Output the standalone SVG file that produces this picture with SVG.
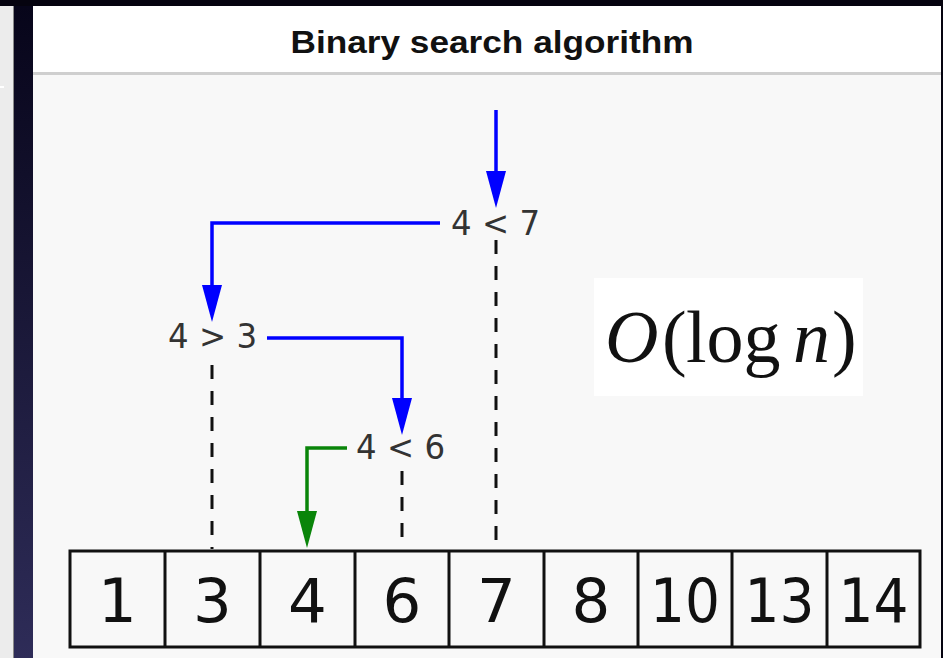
<svg xmlns="http://www.w3.org/2000/svg" width="943" height="658" viewBox="0 0 943 658">
  <defs>
    <linearGradient id="navy" x1="0" y1="0" x2="0" y2="1">
      <stop offset="0" stop-color="#07051a"/>
      <stop offset="1" stop-color="#2e2c58"/>
    </linearGradient>
    <marker id="headBlue" viewBox="0 0 37 20" refX="17" refY="10" markerWidth="37" markerHeight="20" markerUnits="userSpaceOnUse" orient="auto">
      <path d="M0,0 L37,10 L0,20 Z" fill="#0000ff"/>
    </marker>
    <marker id="headGreen" viewBox="0 0 37 20" refX="17" refY="10" markerWidth="37" markerHeight="20" markerUnits="userSpaceOnUse" orient="auto">
      <path d="M0,0 L37,10 L0,20 Z" fill="#0a850a"/>
    </marker>
  </defs>
  <style>
    .blue { fill: none; stroke: #0000ff; stroke-width: 3.5; marker-end: url(#headBlue); }
    .green { fill: none; stroke: #0a850a; stroke-width: 3.5; marker-end: url(#headGreen); }
    .dash { fill: none; stroke: #111; stroke-width: 3; stroke-dasharray: 14 12; }
    .lbl { font-family: "DejaVu Sans", sans-serif; font-size: 33px; fill: #333; }
    .cell { fill: none; stroke: #111; stroke-width: 3; }
    .num { font-family: "DejaVu Sans", sans-serif; font-size: 61px; fill: #111; text-anchor: middle; }
    .math { font-family: "Liberation Serif", serif; font-size: 74px; fill: #111; }
  </style>

  <!-- background / window chrome -->
  <rect x="0" y="0" width="943" height="658" fill="#05030f"/>
  <rect x="0" y="0" width="13" height="658" fill="#ececec"/>
  <rect x="0" y="86" width="4" height="2" fill="#ffffff"/>
  <rect x="13" y="0" width="1" height="658" fill="#8a8a8a"/>
  <rect x="14" y="6" width="19" height="652" fill="url(#navy)"/>
  <rect x="0" y="0" width="943" height="6" fill="#05030f"/>
  <rect x="33" y="6" width="908" height="66" fill="#ffffff"/>
  <rect x="33" y="72" width="908" height="3" fill="#cfcfcf"/>
  <rect x="33" y="75" width="908" height="583" fill="#f8f8f8"/>

  <g id="title">
    <text x="492" y="53" text-anchor="middle" font-family="Liberation Sans, Arial, sans-serif" font-weight="bold" font-size="32" fill="#111" textLength="403" lengthAdjust="spacingAndGlyphs">Binary search algorithm</text>
  </g>

  <g id="complexity">
    <rect x="594" y="278" width="269" height="118" fill="#ffffff"/>
    <text class="math" y="362"><tspan x="605" font-style="italic">O</tspan><tspan x="662">(</tspan><tspan x="686">log</tspan><tspan x="793" font-style="italic">n</tspan><tspan x="832">)</tspan></text>
  </g>

  <g id="connectors">
    <path class="dash" d="M212,365 V549"/>
    <path class="dash" d="M402,471 V549"/>
    <path class="dash" d="M496,240 V549"/>
    <path class="blue" d="M496,110 V188"/>
    <path class="blue" d="M440,223 H212 V302"/>
    <path class="blue" d="M267,338 H402 V415"/>
    <path class="green" d="M347,448 H307 V528"/>
  </g>

  <g id="cmp-4-7"><text class="lbl" x="451" y="235" textLength="89" lengthAdjust="spacingAndGlyphs">4 &lt; 7</text></g>
  <g id="cmp-4-3"><text class="lbl" x="168" y="348" textLength="89" lengthAdjust="spacingAndGlyphs">4 &gt; 3</text></g>
  <g id="cmp-4-6"><text class="lbl" x="356" y="459" textLength="89" lengthAdjust="spacingAndGlyphs">4 &lt; 6</text></g>

  <g id="array">
    <rect class="cell" x="70" y="551" width="850" height="96"/>
    <path class="cell" d="M165,551 V647 M260,551 V647 M355,551 V647 M449,551 V647 M544,551 V647 M638,551 V647 M732,551 V647 M827,551 V647"/>
    <g id="c1"><text class="num" x="117.5" y="622">1</text></g>
    <g id="c3"><text class="num" x="212.5" y="622">3</text></g>
    <g id="c4"><text class="num" x="307.5" y="622">4</text></g>
    <g id="c6"><text class="num" x="402" y="622">6</text></g>
    <g id="c7"><text class="num" x="496.5" y="622">7</text></g>
    <g id="c8"><text class="num" x="591" y="622">8</text></g>
    <g id="c10"><text class="num" x="685" y="622" textLength="70" lengthAdjust="spacingAndGlyphs">10</text></g>
    <g id="c13"><text class="num" x="779.5" y="622" textLength="70" lengthAdjust="spacingAndGlyphs">13</text></g>
    <g id="c14"><text class="num" x="873.5" y="622" textLength="70" lengthAdjust="spacingAndGlyphs">14</text></g>
  </g>
</svg>
